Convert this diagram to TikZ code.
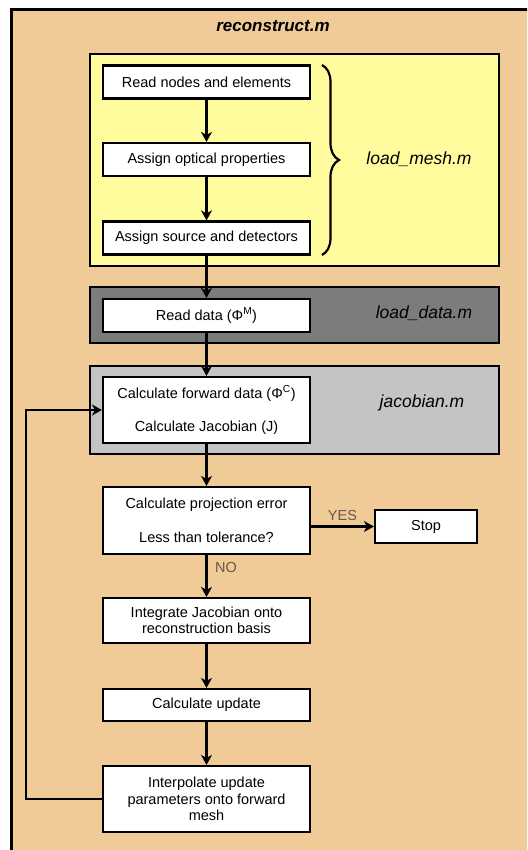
\documentclass[tikz,border=0pt]{standalone}
\usepackage{fontspec}
\setmainfont{Liberation Sans}
\usetikzlibrary{positioning,arrows.meta,decorations.pathreplacing}
\definecolor{cTan}{RGB}{240,203,152}
\definecolor{cYel}{RGB}{255,252,158}
\definecolor{cDark}{RGB}{124,124,124}
\definecolor{cLight}{RGB}{196,196,196}
\definecolor{cLab}{RGB}{104,88,72}

\begin{document}
\begin{tikzpicture}[x=1pt,y=-1pt,
  stepbox/.style={draw,line width=2.2pt,fill=white,minimum width=207pt,minimum height=33pt,
             inner sep=0,align=center,font=\fontsize{14.5}{16.5}\selectfont},
  modbox/.style={draw,line width=2.4pt},
  modlab/.style={font=\fontsize{17.5}{20}\selectfont\itshape,text=black},
  flow/.style={line width=2.5pt,-{Stealth[length=10pt,width=11pt,inset=3pt]}},
  yn/.style={cLab,font=\fontsize{14.5}{16.5}\selectfont}]

  \useasboundingbox (0,0) rectangle (527,850);
  \clip (0,0) rectangle (527,850);

  % ---- reconstruct.m : outer frame ----
  \draw[modbox,fill=cTan] (11.5,9.5) rectangle (545,870);
  \node[font=\fontsize{17}{20}\selectfont\bfseries\itshape] (tRec) at (273,26) {reconstruct.m};

  % ---- load_mesh.m ----
  \draw[modbox,fill=cYel] (90,54) rectangle (499,266);
  \node[stepbox] (sNodes) at (206.5,82) {Read nodes and elements};
  \node[stepbox] (sOpt)   at (206.5,159.5) {Assign optical properties};
  \node[stepbox] (sSrc)   at (206.5,238) {Assign source and detectors};
  \draw[line width=2.2pt,decorate,decoration={brace,amplitude=17pt}] (322,65) -- (322,255);
  \node[modlab] (tMesh) at (419,159) {load\_mesh.m};

  % ---- load_data.m ----
  \draw[modbox,fill=cDark] (90,287) rectangle (499,343);
  \node[stepbox] (sData) at (206.5,315.5) {Read data (Φ\textsuperscript{M})};
  \node[modlab] (tData) at (424,313) {load\_data.m};

  % ---- jacobian.m ----
  \draw[modbox,fill=cLight] (90,366) rectangle (499,454);
  \node[stepbox,minimum height=66pt] (sJac) at (206.5,410)
    {Calculate forward data (Φ\textsuperscript{C})\\[16.5pt]Calculate Jacobian (J)};
  \node[modlab] (tJac) at (422,403) {jacobian.m};

  % ---- iteration ----
  \node[stepbox,minimum height=67pt] (sErr) at (206.5,520.5)
    {Calculate projection error\\[17pt]Less than tolerance?};
  \node[stepbox,minimum width=102pt] (sStop) at (426,526.5) {Stop};
  \node[stepbox,minimum height=45pt] (sInt) at (206.5,620.5)
    {Integrate Jacobian onto\\reconstruction basis};
  \node[stepbox,minimum height=32pt] (sUpd) at (206.5,705) {Calculate update};
  \node[stepbox,minimum height=66pt] (sIntp) at (206.5,799)
    {Interpolate update\\parameters onto forward\\mesh};

  \draw[flow] (sNodes) -- (sOpt);
  \draw[flow] (sOpt) -- (sSrc);
  \draw[flow] (sSrc) -- (sData);
  \draw[flow] (sData) -- (sJac);
  \draw[flow] (sJac) -- (sErr);
  \draw[flow] (sErr.east |- sStop) -- node[yn,above=1pt] (tYes) {YES} (sStop);
  \draw[flow] (sErr) -- node[yn,right=4pt,pos=0.3] (tNo) {NO} (sInt);
  \draw[flow] (sInt) -- (sUpd);
  \draw[flow] (sUpd) -- (sIntp);

  % loop back
  \coordinate (cLoop) at (26,799);
  \draw[flow] (sIntp.west) -- (cLoop) |- (sJac.west);

\end{tikzpicture}
\end{document}
